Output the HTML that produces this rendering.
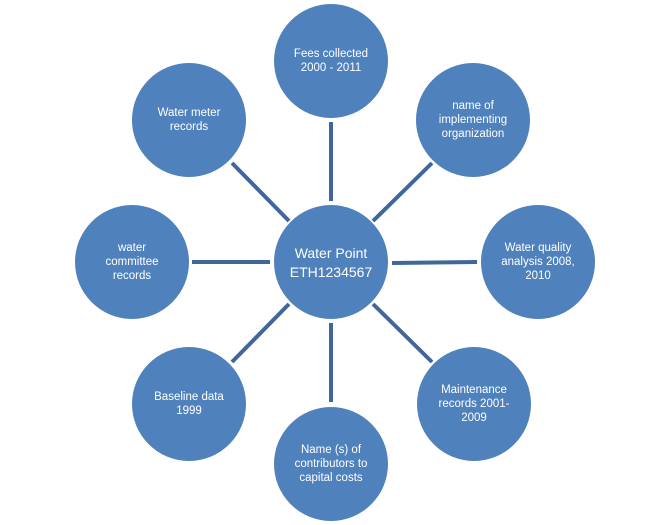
<!DOCTYPE html>
<html><head><style>
html,body{margin:0;padding:0;background:#fff;}
svg{display:block}
text{font-family:"Liberation Sans",sans-serif;fill:#fff;font-size:11.5px;text-anchor:middle}
</style></head><body>
<svg width="663" height="525" viewBox="0 0 663 525">
<g stroke="#41679a" stroke-width="4" stroke-linecap="butt">
<line x1="331" y1="122" x2="331" y2="201"/>
<line x1="432" y1="163" x2="373" y2="221"/>
<line x1="477" y1="262" x2="392" y2="263"/>
<line x1="432" y1="362" x2="373" y2="304"/>
<line x1="331" y1="402" x2="331" y2="323"/>
<line x1="232" y1="362" x2="289" y2="304"/>
<line x1="192" y1="262" x2="270" y2="262"/>
<line x1="232" y1="163" x2="289" y2="221"/>
</g>
<g fill="#4f81bd">
<circle cx="331" cy="262" r="57"/>
<circle cx="331" cy="61" r="57"/>
<circle cx="473" cy="120" r="57"/>
<circle cx="538" cy="262" r="57"/>
<circle cx="474" cy="404" r="57"/>
<circle cx="331" cy="464" r="57"/>
<circle cx="189" cy="404" r="57"/>
<circle cx="132" cy="262" r="57"/>
<circle cx="189" cy="120" r="57"/>
</g>
<text x="331" y="258" style="font-size:14px">Water Point</text>
<text x="331" y="277" style="font-size:14px">ETH1234567</text>
<text x="331" y="57">Fees collected</text>
<text x="331" y="71">2000 - 2011</text>
<text x="473" y="109">name of</text>
<text x="473" y="123">implementing</text>
<text x="473" y="137">organization</text>
<text x="538" y="251">Water quality</text>
<text x="538" y="265">analysis 2008,</text>
<text x="538" y="279">2010</text>
<text x="474" y="393">Maintenance</text>
<text x="474" y="407">records 2001-</text>
<text x="474" y="421">2009</text>
<text x="331" y="453">Name (s) of</text>
<text x="331" y="467">contributors to</text>
<text x="331" y="481">capital costs</text>
<text x="189" y="400">Baseline data</text>
<text x="189" y="414">1999</text>
<text x="132" y="251">water</text>
<text x="132" y="265">committee</text>
<text x="132" y="279">records</text>
<text x="189" y="116">Water meter</text>
<text x="189" y="130">records</text>
</svg>
</body></html>
